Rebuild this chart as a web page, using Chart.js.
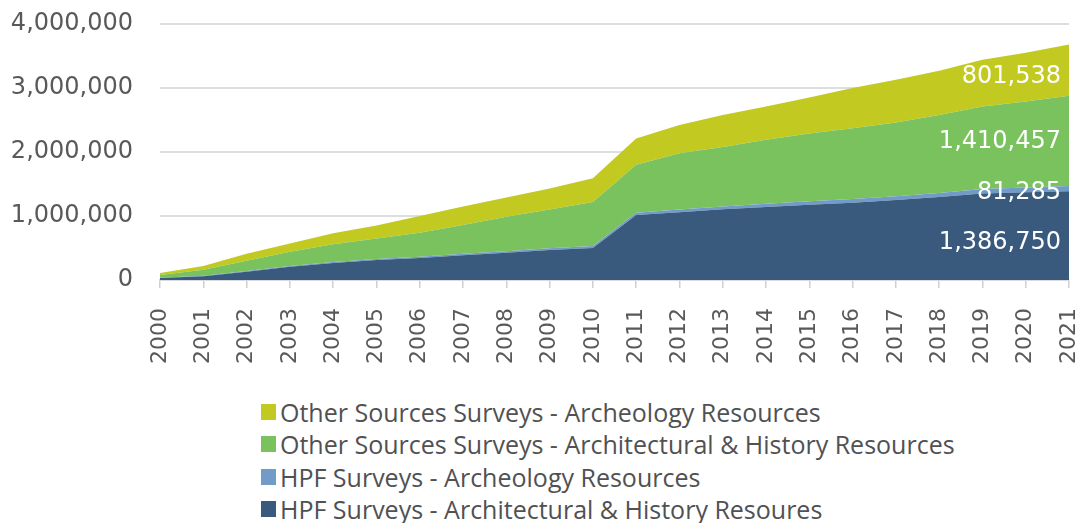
<!DOCTYPE html>
<html>
<head>
<meta charset="utf-8">
<script src="https://cdn.jsdelivr.net/npm/chart.js@4"></script>
<style>
  html, body { margin: 0; padding: 0; background: #fff; }
  #wrap { position: relative; width: 1083px; height: 523px; }
  #chart-box { position: absolute; left: 0; top: 0; width: 1083px; height: 370px; }
  #legend { position: absolute; left: 261px; top: 396px; font-family: "Open Sans", sans-serif; font-size: 25px; color: #505153; }
  #legend .row { display: flex; align-items: center; height: 32.3px; white-space: nowrap; }
  #legend .box { width: 15px; height: 16px; margin-right: 4px; flex: none; }
</style>
</head>
<body>
<div id="wrap">
  <div id="chart-box"><canvas id="surveyChart"></canvas></div>
  <div id="legend"></div>
</div>
<script>
const years = ['2000','2001','2002','2003','2004','2005','2006','2007','2008','2009','2010',
  '2011','2012','2013','2014','2015','2016','2017','2018','2019','2020','2021'];

// HPF Surveys - Architectural & History Resoures
const hpfArchHist = [30000, 60000, 130000, 208000, 265000, 312000, 345000, 388000, 425000, 467000, 500000,
  1015000, 1060000, 1105000, 1140000, 1177000, 1208000, 1250000, 1295000, 1350000, 1370000, 1386750];
// HPF Surveys - Archeology Resources
const hpfArcheo = [5000, 8000, 10000, 12000, 15000, 18000, 20000, 22000, 25000, 28000, 30000,
  35000, 40000, 45000, 50000, 53000, 57000, 60000, 65000, 70000, 75000, 81285];
// Other Sources Surveys - Architectural & History Resources
const otherArchHist = [45000, 92000, 160000, 220000, 280000, 320000, 375000, 450000, 540000, 605000, 690000,
  750000, 880000, 930000, 1000000, 1060000, 1105000, 1150000, 1220000, 1290000, 1345000, 1410457];
// Other Sources Surveys - Archeology Resources
const otherArcheo = [30000, 60000, 110000, 130000, 170000, 200000, 260000, 290000, 300000, 330000, 370000,
  410000, 440000, 500000, 520000, 560000, 630000, 670000, 690000, 730000, 760000, 801538];

const yTicks = [0, 1000000, 2000000, 3000000, 4000000];

const textGrey = '#58595b';
const fmt = (v) => v.toLocaleString('en-US');

const area = (label, data, color, fill) => ({
  label, data, fill, backgroundColor: color, borderColor: color,
  borderWidth: 0, pointRadius: 0, pointHoverRadius: 0, tension: 0,
});

// white value labels at the right end of each band
const endLabels = {
  id: 'endLabels',
  afterDatasetsDraw(chart) {
    const { ctx, chartArea, scales: { y } } = chart;
    const nudge = [7, 4, 1, 7];
    let base = 0;
    ctx.save();
    ctx.font = '24px "DejaVu Sans"';
    ctx.fillStyle = '#ffffff';
    ctx.textAlign = 'right';
    ctx.textBaseline = 'middle';
    chart.data.datasets.forEach((ds, i) => {
      const v = ds.data[ds.data.length - 1];
      const mid = y.getPixelForValue(base + v / 2);
      ctx.fillText(fmt(v), chartArea.right - 8, mid + nudge[i]);
      base += v;
    });
    ctx.restore();
  },
};

// legend under the chart, one entry per row, top series first
const htmlLegend = {
  id: 'htmlLegend',
  afterUpdate(chart) {
    const el = document.getElementById('legend');
    const items = chart.options.plugins.legend.labels.generateLabels(chart).reverse();
    el.innerHTML = items
      .map((it) => `<div class="row"><span class="box" style="background:${it.fillStyle}"></span>${it.text}</div>`)
      .join('');
  },
};

new Chart(document.getElementById('surveyChart'), {
  type: 'line',
  data: {
    labels: years,
    datasets: [
      area('HPF Surveys - Architectural & History Resoures', hpfArchHist, '#395a7d', 'origin'),
      area('HPF Surveys - Archeology Resources', hpfArcheo, '#719cc8', '-1'),
      area('Other Sources Surveys - Architectural & History Resources', otherArchHist, '#7ac25d', '-1'),
      area('Other Sources Surveys - Archeology Resources', otherArcheo, '#c2ca22', '-1'),
    ],
  },
  options: {
    responsive: true,
    maintainAspectRatio: false,
    animation: false,
    layout: { padding: { top: 24, right: 14, left: 0, bottom: 0 } },
    plugins: {
      legend: { display: false },
      tooltip: { enabled: false },
    },
    scales: {
      x: {
        offset: false,
        afterFit: (s) => { s.height = 90; s.paddingLeft = 0; s.paddingRight = 0; },
        grid: { drawOnChartArea: false, tickLength: 8, color: '#cfcfcf', lineWidth: 1.5 },
        border: { color: '#cfd6de', width: 1.5 },
        ticks: {
          color: textGrey, font: { family: '"DejaVu Sans"', size: 22 },
          minRotation: 90, maxRotation: 90, padding: 20, autoSkip: false,
        },
      },
      y: {
        stacked: true,
        min: 0,
        max: 4000000,
        afterFit: (s) => { s.width = 160; s.paddingTop = 0; s.paddingBottom = 0; },
        afterBuildTicks: (s) => { s.ticks = yTicks.map((value) => ({ value })); },
        grid: { color: '#dedede', lineWidth: 2, drawTicks: false },
        border: { display: false },
        ticks: {
          color: textGrey, font: { family: '"DejaVu Sans"', size: 24 },
          padding: 27, callback: (v) => fmt(v),
        },
      },
    },
  },
  plugins: [endLabels, htmlLegend],
});
</script>
</body>
</html>
